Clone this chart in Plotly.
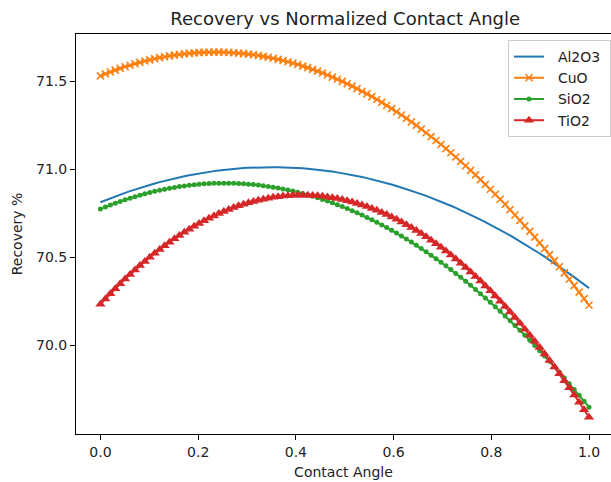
import plotly.graph_objects as go

contact_angle = [
    0.0, 0.0101, 0.0202, 0.0303, 0.0404, 0.0505, 0.0606, 0.0707, 0.0808, 0.0909,
    0.1010, 0.1111, 0.1212, 0.1313, 0.1414, 0.1515, 0.1616, 0.1717, 0.1818, 0.1919,
    0.2020, 0.2121, 0.2222, 0.2323, 0.2424, 0.2525, 0.2626, 0.2727, 0.2828, 0.2929,
    0.3030, 0.3131, 0.3232, 0.3333, 0.3434, 0.3535, 0.3636, 0.3737, 0.3838, 0.3939,
    0.4040, 0.4141, 0.4242, 0.4343, 0.4444, 0.4545, 0.4646, 0.4747, 0.4848, 0.4949,
    0.5051, 0.5152, 0.5253, 0.5354, 0.5455, 0.5556, 0.5657, 0.5758, 0.5859, 0.5960,
    0.6061, 0.6162, 0.6263, 0.6364, 0.6465, 0.6566, 0.6667, 0.6768, 0.6869, 0.6970,
    0.7071, 0.7172, 0.7273, 0.7374, 0.7475, 0.7576, 0.7677, 0.7778, 0.7879, 0.7980,
    0.8081, 0.8182, 0.8283, 0.8384, 0.8485, 0.8586, 0.8687, 0.8788, 0.8889, 0.8990,
    0.9091, 0.9192, 0.9293, 0.9394, 0.9495, 0.9596, 0.9697, 0.9798, 0.9899, 1.0,
]

al2o3 = [
    70.8130, 70.8243, 70.8353, 70.8460, 70.8563, 70.8663, 70.8760, 70.8853, 70.8943, 70.9030,
    70.9113, 70.9193, 70.9270, 70.9343, 70.9414, 70.9480, 70.9544, 70.9604, 70.9661, 70.9714,
    70.9765, 70.9811, 70.9855, 70.9895, 70.9932, 70.9966, 70.9996, 71.0023, 71.0047, 71.0067,
    71.0084, 71.0098, 71.0108, 71.0116, 71.0119, 71.0120, 71.0117, 71.0111, 71.0101, 71.0089,
    71.0072, 71.0053, 71.0030, 71.0004, 70.9975, 70.9942, 70.9906, 70.9867, 70.9824, 70.9778,
    70.9729, 70.9676, 70.9620, 70.9561, 70.9498, 70.9433, 70.9363, 70.9291, 70.9215, 70.9136,
    70.9053, 70.8968, 70.8879, 70.8786, 70.8690, 70.8591, 70.8489, 70.8383, 70.8274, 70.8162,
    70.8046, 70.7927, 70.7805, 70.7680, 70.7551, 70.7418, 70.7283, 70.7144, 70.7002, 70.6856,
    70.6708, 70.6555, 70.6400, 70.6241, 70.6079, 70.5914, 70.5745, 70.5573, 70.5398, 70.5219,
    70.5037, 70.4852, 70.4663, 70.4471, 70.4276, 70.4078, 70.3876, 70.3670, 70.3462, 70.3250,
]

cuo = [
    71.5300, 71.5414, 71.5522, 71.5626, 71.5725, 71.5819, 71.5907, 71.5991, 71.6070, 71.6144,
    71.6212, 71.6276, 71.6335, 71.6388, 71.6437, 71.6481, 71.6519, 71.6553, 71.6582, 71.6605,
    71.6624, 71.6638, 71.6646, 71.6650, 71.6648, 71.6642, 71.6631, 71.6614, 71.6593, 71.6566,
    71.6535, 71.6499, 71.6457, 71.6411, 71.6359, 71.6303, 71.6242, 71.6175, 71.6104, 71.6027,
    71.5946, 71.5859, 71.5768, 71.5671, 71.5570, 71.5463, 71.5352, 71.5235, 71.5114, 71.4987,
    71.4856, 71.4719, 71.4578, 71.4431, 71.4280, 71.4123, 71.3962, 71.3795, 71.3623, 71.3447,
    71.3265, 71.3079, 71.2887, 71.2691, 71.2489, 71.2282, 71.2071, 71.1854, 71.1633, 71.1406,
    71.1174, 71.0938, 71.0696, 71.0449, 71.0198, 70.9941, 70.9679, 70.9413, 70.9141, 70.8864,
    70.8583, 70.8296, 70.8004, 70.7708, 70.7406, 70.7099, 70.6788, 70.6471, 70.6149, 70.5822,
    70.5491, 70.5154, 70.4812, 70.4465, 70.4114, 70.3757, 70.3395, 70.3028, 70.2657, 70.2280,
]

sio2 = [
    70.7740, 70.7855, 70.7965, 70.8070, 70.8171, 70.8267, 70.8358, 70.8445, 70.8527, 70.8605,
    70.8678, 70.8746, 70.8809, 70.8868, 70.8922, 70.8972, 70.9016, 70.9057, 70.9092, 70.9123,
    70.9149, 70.9171, 70.9187, 70.9200, 70.9207, 70.9210, 70.9208, 70.9202, 70.9191, 70.9175,
    70.9155, 70.9129, 70.9100, 70.9065, 70.9026, 70.8982, 70.8934, 70.8881, 70.8823, 70.8761,
    70.8694, 70.8622, 70.8546, 70.8465, 70.8379, 70.8289, 70.8194, 70.8094, 70.7990, 70.7881,
    70.7767, 70.7649, 70.7526, 70.7398, 70.7266, 70.7129, 70.6988, 70.6841, 70.6690, 70.6535,
    70.6375, 70.6210, 70.6040, 70.5866, 70.5687, 70.5503, 70.5315, 70.5122, 70.4925, 70.4723,
    70.4516, 70.4304, 70.4088, 70.3867, 70.3642, 70.3412, 70.3177, 70.2937, 70.2693, 70.2444,
    70.2191, 70.1933, 70.1670, 70.1403, 70.1130, 70.0854, 70.0572, 70.0286, 69.9995, 69.9700,
    69.9400, 69.9095, 69.8786, 69.8472, 69.8153, 69.7830, 69.7502, 69.7169, 69.6832, 69.6490,
]

tio2 = [
    70.2340, 70.2640, 70.2932, 70.3217, 70.3495, 70.3765, 70.4027, 70.4282, 70.4530, 70.4770,
    70.5003, 70.5229, 70.5447, 70.5657, 70.5860, 70.6056, 70.6244, 70.6425, 70.6598, 70.6764,
    70.6922, 70.7073, 70.7217, 70.7353, 70.7482, 70.7603, 70.7717, 70.7823, 70.7922, 70.8013,
    70.8097, 70.8174, 70.8243, 70.8305, 70.8359, 70.8406, 70.8445, 70.8477, 70.8501, 70.8518,
    70.8528, 70.8530, 70.8525, 70.8512, 70.8492, 70.8464, 70.8429, 70.8386, 70.8336, 70.8279,
    70.8214, 70.8142, 70.8062, 70.7975, 70.7880, 70.7778, 70.7669, 70.7552, 70.7428, 70.7296,
    70.7156, 70.7010, 70.6856, 70.6694, 70.6525, 70.6348, 70.6165, 70.5973, 70.5774, 70.5568,
    70.5354, 70.5133, 70.4905, 70.4669, 70.4425, 70.4174, 70.3916, 70.3650, 70.3377, 70.3096,
    70.2808, 70.2513, 70.2210, 70.1899, 70.1581, 70.1256, 70.0923, 70.0583, 70.0235, 69.9880,
    69.9518, 69.9148, 69.8770, 69.8385, 69.7993, 69.7593, 69.7186, 69.6772, 69.6349, 69.5920,
]

series_names = ["Al2O3", "CuO", "SiO2", "TiO2"]
y_ticks = [70.0, 70.5, 71.0, 71.5]
x_ticks = [0.0, 0.2, 0.4, 0.6, 0.8, 1.0]

FONT = "DejaVu Sans"
NB = "\u00a0"


def label(name):
    return NB * 2 + name + NB


fig = go.Figure()
fig.add_trace(go.Scatter(x=contact_angle, y=al2o3, name=label(series_names[0]), mode="lines",
                         line=dict(color="#1f77b4", width=2)))
fig.add_trace(go.Scatter(x=contact_angle, y=cuo, name=label(series_names[1]), mode="lines+markers",
                         line=dict(color="#ff7f0e", width=2),
                         marker=dict(symbol="x-thin", size=7, color="#ff7f0e",
                                     line=dict(color="#ff7f0e", width=1.6))))
fig.add_trace(go.Scatter(x=contact_angle, y=sio2, name=label(series_names[2]), mode="lines+markers",
                         line=dict(color="#2ca02c", width=2),
                         marker=dict(symbol="circle", size=5, color="#2ca02c")))
fig.add_trace(go.Scatter(x=contact_angle, y=tio2, name=label(series_names[3]), mode="lines+markers",
                         line=dict(color="#d62728", width=2),
                         marker=dict(symbol="triangle-up", size=9, color="#d62728")))

fig.update_layout(
    width=611, height=482,
    margin=dict(l=76, r=0, t=34, b=48),
    paper_bgcolor="white", plot_bgcolor="white",
    font=dict(family=FONT, size=14, color="#222222"),
    title=dict(text="Recovery vs Normalized Contact Angle", x=0.565, xanchor="center",
               y=0.962, yanchor="middle", font=dict(family=FONT, size=18, color="#222222")),
    showlegend=True,
    legend=dict(x=1.0, xanchor="right", y=0.985, yanchor="top",
                bgcolor="rgba(255,255,255,0.8)", bordercolor="#cccccc", borderwidth=1,
                font=dict(family=FONT, size=14, color="#222222")),
)
fig.update_xaxes(range=[-0.05, 1.045], tickvals=x_ticks, ticktext=[f"{v:.1f}" for v in x_ticks],
                 showgrid=False, zeroline=False, showline=True, linecolor="black", linewidth=1,
                 mirror=True, ticks="outside", ticklen=5, tickcolor="black",
                 title=dict(text="Contact Angle", standoff=8, font=dict(family=FONT, size=14)))
fig.update_yaxes(range=[69.497, 71.768], tickvals=y_ticks, ticktext=[f"{v:.1f}" for v in y_ticks],
                 showgrid=False, zeroline=False, showline=True, linecolor="black", linewidth=1,
                 ticks="outside", ticklen=5, tickcolor="black",
                 title=dict(text="Recovery %", standoff=10, font=dict(family=FONT, size=14)))

fig.write_html("out.html")
